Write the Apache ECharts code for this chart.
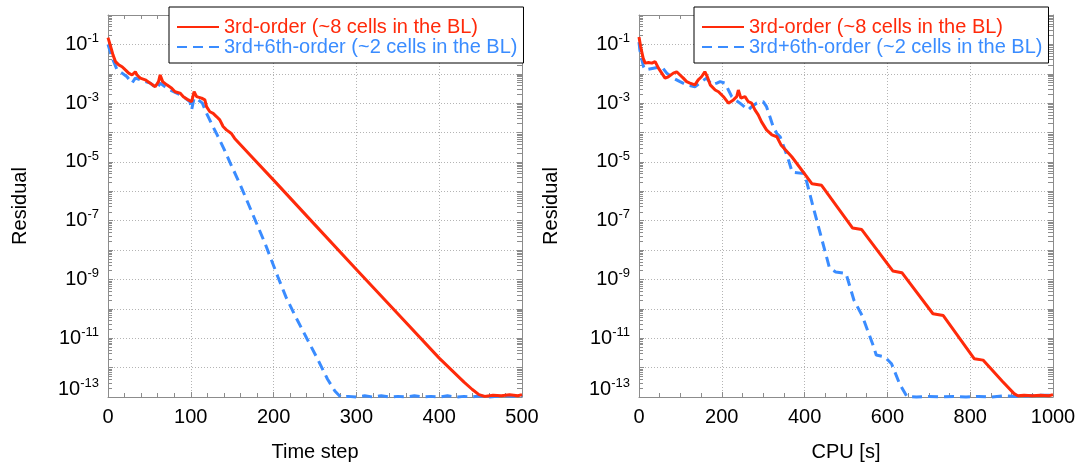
<!DOCTYPE html>
<html>
<head>
<meta charset="utf-8">
<script src="https://cdn.jsdelivr.net/npm/echarts@6/dist/echarts.min.js"></script>
<style>
html,body{margin:0;padding:0;background:#fff;}
#chart{width:1082px;height:465px;}
</style>
</head>
<body>
<div id="chart"></div>
<script>
// ---------- data ----------
const seriesNames = ['3rd-order (~8 cells in the BL)', '3rd+6th-order (~2 cells in the BL)'];

// Left panel: residual vs time step
const stepRedX = [0,2,4,6,9,13,17,21,25,29,33,35,39,45,51,57,61,63,66,71,77,81,87,91,97,101,104,107,113,117,119,123,127,131,135,139,143,149,153,171,200,250,300,350,400,430,440,448,455,465,475,485,495,500];
const stepRedY = [1.7e-1,1.1e-1,7e-2,4.4e-2,2.6e-2,2.0e-2,1.74e-2,1.35e-2,1.05e-2,9.1e-3,1.17e-2,9.1e-3,7.1e-3,6.2e-3,4.8e-3,3.6e-3,5.4e-3,9.1e-3,5.4e-3,4.2e-3,3.2e-3,2.45e-3,2.2e-3,1.66e-3,1.29e-3,1.12e-3,2.45e-3,1.66e-3,1.48e-3,1.29e-3,7.6e-4,5.1e-4,4.5e-4,3.5e-4,2.7e-4,1.6e-4,1.23e-4,9.3e-5,6.3e-5,1.8e-5,2.4e-6,7.2e-8,2.2e-9,6.8e-11,2.1e-12,3.2e-13,1.8e-13,1.2e-13,1.05e-13,1.15e-13,1.1e-13,1.2e-13,1.1e-13,1.2e-13];
const stepBlueX = [0,2,6,11,17,23,29,33,39,45,51,59,63,69,75,83,91,99,101,104,109,114,119,125,131,140,147,160,175,190,205,215,228,240,253,265,274,281,290,300,310,320,330,340,350,360,370,380,390,400,410,420,430,440,450,460,470,480,490,500];
const stepBlueY = [1.0e-1,6.5e-2,3.0e-2,1.35e-2,1.05e-2,7.9e-3,4.8e-3,7.1e-3,6.2e-3,5.4e-3,4.8e-3,3.2e-3,4.8e-3,3.6e-3,2.8e-3,2.2e-3,1.66e-3,1.12e-3,5.9e-4,1.48e-3,1.29e-3,1.0e-3,4.5e-4,2.0e-4,9.3e-5,2.8e-5,1.0e-5,1.6e-6,1.6e-7,1.6e-8,1.26e-9,2.5e-10,4.5e-11,1.0e-11,2.0e-12,4.1e-13,1.6e-13,1.0e-13,1.05e-13,1.0e-13,1.1e-13,1.0e-13,1.1e-13,1.0e-13,1.05e-13,1.0e-13,1.1e-13,1.0e-13,1.05e-13,1.0e-13,1.1e-13,1.0e-13,1.05e-13,1.0e-13,1.1e-13,1.0e-13,1.05e-13,1.1e-13,1.05e-13,1.1e-13];

// Right panel: residual vs CPU time [s]
const cpuRedX = [0,4,10,15,23,31,39,47,55,63,71,83,91,99,107,115,123,135,143,151,159,165,172,184,192,204,216,228,236,240,246,256,264,272,280,288,296,308,321,333,343,369,418,441,516,538,613,635,710,735,810,831,877,906,915,930,950,970,990,1000];
const cpuRedY = [1.8e-1,8.3e-2,3.4e-2,2.3e-2,2.4e-2,2.3e-2,2.6e-2,1.55e-2,1.05e-2,7.1e-3,7.9e-3,1.05e-2,1.17e-2,9.1e-3,7.1e-3,5.4e-3,4.8e-3,4.2e-3,6.2e-3,7.9e-3,1.17e-2,7.9e-3,4.2e-3,2.8e-3,2.45e-3,1.66e-3,1.0e-3,1.29e-3,1.66e-3,2.8e-3,1.48e-3,1.66e-3,1.12e-3,1.0e-3,5.9e-4,4.0e-4,2.3e-4,1.23e-4,8.3e-5,7.2e-5,3.8e-5,1.5e-5,1.8e-6,1.6e-6,5.6e-8,5.0e-8,1.95e-9,1.7e-9,6.8e-11,5.9e-11,2.0e-12,1.8e-12,3.5e-13,1.3e-13,1.1e-13,1.15e-13,1.1e-13,1.15e-13,1.1e-13,1.2e-13];
const cpuBlueX = [0,2,6,11,15,35,55,67,83,99,115,135,151,163,176,188,196,208,216,224,232,244,264,272,284,292,300,308,316,324,333,341,360,370,400,420,460,475,500,519,539,565,573,594,610,630,647,670,700,730,760,790,820,850,880,910,940,970,1000];
const cpuBlueY = [1.2e-1,6.5e-2,3.4e-2,1.74e-2,1.35e-2,1.55e-2,1.74e-2,1.05e-2,7.1e-3,5.4e-3,4.2e-3,3.6e-3,5.4e-3,7.1e-3,4.2e-3,4.8e-3,5.4e-3,4.8e-3,2.8e-3,1.66e-3,1.29e-3,1.0e-3,5.9e-4,7.6e-4,1.0e-3,1.12e-3,1.12e-3,7.6e-4,3.5e-4,1.6e-4,9.3e-5,7.2e-5,1.3e-5,4.5e-6,4.0e-6,3.2e-7,2.5e-9,1.8e-9,1.6e-9,2.0e-10,5.9e-11,6.0e-12,2.7e-12,2.3e-12,1.35e-12,2.7e-13,1.05e-13,1.0e-13,1.05e-13,1.0e-13,1.05e-13,1.0e-13,1.05e-13,1.0e-13,1.1e-13,1.05e-13,1.1e-13,1.15e-13,1.15e-13];

const stepTicks = {min: 0, max: 500, interval: 100};
const cpuTicks = {min: 0, max: 1000, interval: 200};
const yLabelValues = [1e-1,1e-3,1e-5,1e-7,1e-9,1e-11,1e-13];
const xTitles = ['Time step', 'CPU [s]'];
const yTitle = 'Residual';

// ---------- styling ----------
const RED = '#ff2a0a';
const BLUE = '#3a8cff';
const AXIS = '#8c8c8c';
const GRIDC = '#b4b4b4';
const FONT = "'Liberation Sans', Arial, Helvetica, sans-serif";

const minorVals = [];
for (let e = -13; e < 0; e++) {
  for (let m = 2; m <= 9; m++) minorVals.push(Number((m * Math.pow(10, e)).toPrecision(3)));
}
const majorVals = [];
for (let e = -13; e <= 0; e++) majorVals.push(Number(Math.pow(10, e).toPrecision(3)));

const pair = (xs, ys) => xs.map((x, i) => [x, ys[i]]);

const rects = [
  {left: 108, right: 560, top: 15, bottom: 68},
  {left: 639, right: 29, top: 15, bottom: 68}
];

const grids = [];
const xAxes = [];
const yAxes = [];
const ticksCfg = [stepTicks, cpuTicks];
const minorSplits = [5, 4];

const yLabelFmt = v => {
  const e = Math.round(Math.log10(v));
  return e === -13 ? '{b2|10}{s2|' + e + '}' : '{b|10}{s|' + e + '}';
};

rects.forEach((r, p) => {
  const gMain = grids.length;
  grids.push(Object.assign({containLabel: false, outerBoundsMode: 'none'}, r));
  grids.push(Object.assign({containLabel: false, outerBoundsMode: 'none'}, r));
  const gMinor = gMain + 1;
  const tc = ticksCfg[p];
  xAxes.push({
    gridIndex: gMain, type: 'value', position: 'bottom', min: tc.min, max: tc.max, interval: tc.interval,
    name: xTitles[p], nameLocation: 'middle', nameGap: 45,
    nameTextStyle: {fontFamily: FONT, fontSize: 20, color: '#000'},
    axisLine: {show: true, lineStyle: {color: AXIS, width: 1}},
    axisTick: {show: true, inside: true, length: 5, lineStyle: {color: AXIS}},
    minorTick: {show: true, splitNumber: minorSplits[p], length: 4, lineStyle: {color: AXIS}},
    axisLabel: {show: true, margin: 10, fontFamily: FONT, fontSize: 20, color: '#000', formatter: v => String(v)},
    splitLine: {show: true, lineStyle: {color: GRIDC, type: [1, 2], width: 1}}
  });
  xAxes.push({
    gridIndex: gMinor, type: 'value', position: 'top', min: tc.min, max: tc.max, interval: tc.interval,
    axisLine: {show: true, lineStyle: {color: AXIS, width: 1}},
    axisTick: {show: true, inside: true, length: 5, lineStyle: {color: AXIS}},
    minorTick: {show: true, splitNumber: minorSplits[p], length: 4, lineStyle: {color: AXIS}},
    axisLabel: {show: false},
    splitLine: {show: false}
  });
  yAxes.push({
    gridIndex: gMain, type: 'log', logBase: 10, position: 'left', min: 1e-13, max: 1, splitNumber: 13,
    name: yTitle, nameLocation: 'middle', nameGap: 78, nameRotate: 90,
    nameTextStyle: {fontFamily: FONT, fontSize: 20, color: '#000'},
    axisLine: {show: true, lineStyle: {color: AXIS, width: 1}},
    axisTick: {show: true, inside: true, length: 5, customValues: majorVals, lineStyle: {color: AXIS}},
    axisLabel: {
      show: true, margin: 9, customValues: yLabelValues,
      formatter: yLabelFmt,
      rich: {
        b: {fontFamily: FONT, fontSize: 20, color: '#000', verticalAlign: 'middle'},
        s: {fontFamily: FONT, fontSize: 13, color: '#000', verticalAlign: 'middle', padding: [0, 0, 12, 0]},
        b2: {fontFamily: FONT, fontSize: 20, color: '#000', verticalAlign: 'middle', padding: [0, 0, 16, 0]},
        s2: {fontFamily: FONT, fontSize: 13, color: '#000', verticalAlign: 'middle', padding: [0, 0, 28, 0]}
      }
    },
    splitLine: {show: true, lineStyle: {color: GRIDC, type: [1, 2], width: 1}}
  });
  yAxes.push({
    gridIndex: gMain, type: 'log', logBase: 10, position: 'right', min: 1e-13, max: 1, splitNumber: 13,
    axisLine: {show: true, lineStyle: {color: AXIS, width: 1}},
    axisTick: {show: true, inside: true, length: 5, customValues: majorVals.concat(minorVals), lineStyle: {color: AXIS}},
    axisLabel: {show: false},
    splitLine: {show: false}
  });
  yAxes.push({
    gridIndex: gMinor, type: 'log', logBase: 10, position: 'left', min: 1e-13, max: 1, splitNumber: 13,
    axisLine: {show: false},
    axisTick: {show: true, inside: true, length: 4, customValues: minorVals, lineStyle: {color: AXIS}},
    axisLabel: {show: false},
    splitLine: {show: false}
  });
});

const lineBase = (name, color, dashed) => ({
  name: name, type: 'line', showSymbol: false, symbol: 'none', smooth: false, clip: false,
  lineStyle: {color: color, width: 3, type: dashed ? [10, 6] : 'solid'},
  itemStyle: {color: color},
  z: dashed ? 3 : 4,
  animation: false
});

const series = [
  Object.assign(lineBase(seriesNames[0], RED, false), {xAxisIndex: 0, yAxisIndex: 0, data: pair(stepRedX, stepRedY)}),
  Object.assign(lineBase(seriesNames[1], BLUE, true), {xAxisIndex: 0, yAxisIndex: 0, data: pair(stepBlueX, stepBlueY)}),
  Object.assign(lineBase(seriesNames[0], RED, false), {xAxisIndex: 2, yAxisIndex: 3, data: pair(cpuRedX, cpuRedY)}),
  Object.assign(lineBase(seriesNames[1], BLUE, true), {xAxisIndex: 2, yAxisIndex: 3, data: pair(cpuBlueX, cpuBlueY)})
];

const legendCommon = {
  orient: 'vertical', top: 7, padding: [10, 6, 6, 7], itemGap: 0,
  itemWidth: 42, itemHeight: 14,
  backgroundColor: '#fff', borderColor: '#000', borderWidth: 1,
  itemStyle: {opacity: 0, borderWidth: 0},
  textStyle: {fontFamily: FONT, fontSize: 20, lineHeight: 20},
  data: [
    {name: seriesNames[0], textStyle: {color: RED}},
    {name: seriesNames[1], textStyle: {color: BLUE}}
  ],
  selectedMode: false
};

const chart = echarts.init(document.getElementById('chart'), null, {renderer: 'canvas'});
chart.setOption({
  animation: false,
  backgroundColor: '#fff',
  grid: grids,
  xAxis: xAxes,
  yAxis: yAxes,
  legend: [
    Object.assign({}, legendCommon, {left: 169}),
    Object.assign({}, legendCommon, {left: 694})
  ],
  series: series
});
</script>
</body>
</html>
